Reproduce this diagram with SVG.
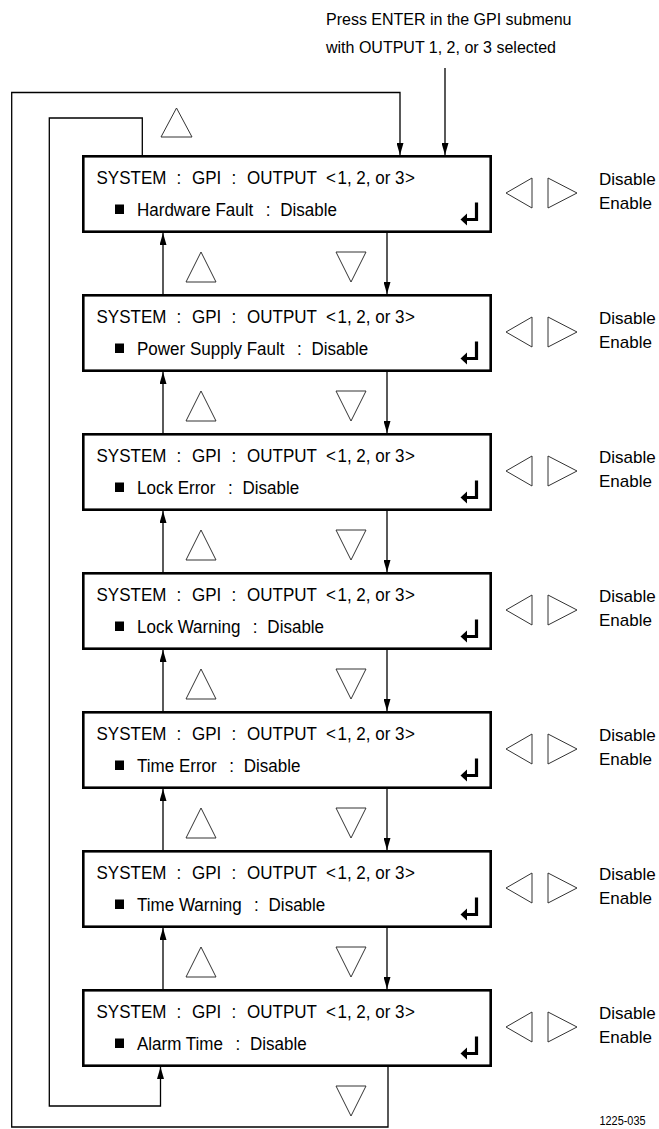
<svg xmlns="http://www.w3.org/2000/svg" width="659" height="1129" viewBox="0 0 659 1129">
<defs>
<style>
.t{font-family:"Liberation Sans",Arial,sans-serif;font-size:17px;fill:#000}
.tb{font-family:"Liberation Sans",Arial,sans-serif;font-size:18.5px;fill:#000}
.h{font-family:"Liberation Sans",Arial,sans-serif;font-size:16px;fill:#000}
.box{fill:#fff;stroke:#000;stroke-width:2.6}
.c{fill:none;stroke:#000;stroke-width:1.3}
.tri{fill:none;stroke:#333;stroke-width:1}
.ent{fill:none;stroke:#000;stroke-width:3.2}
</style>
<marker id="ah" viewBox="0 0 12 7" refX="12" refY="3.5" markerWidth="12" markerHeight="7" markerUnits="userSpaceOnUse" orient="auto">
<path d="M0,0 L12,3.5 L0,7 z" fill="#000"/>
</marker>
<g id="line1">
<text class="tb" y="29" transform="scale(0.92,1)"><tspan x="104.9">SYSTEM</tspan><tspan x="191.9">:</tspan><tspan x="208.7">GPI</tspan><tspan x="251.6">:</tspan><tspan x="268.5">OUTPUT</tspan><tspan x="354.3">&lt;</tspan><tspan x="366.8">1, 2, or 3</tspan><tspan x="440.2">&gt;</tspan></text>
<rect x="115" y="49.5" width="9" height="9.5" fill="#000"/>
<path class="ent" d="M476.5,47.5 V64.5 H466"/>
<polygon points="460.5,64.5 467,58.5 467,70.5" fill="#000"/>
<polygon class="tri" points="506,38 532,23 532,53"/>
<polygon class="tri" points="548,23 577,38 548,53"/>
<text class="t" x="599" y="30">Disable</text>
<text class="t" x="599" y="54">Enable</text>
</g>
</defs>

<text class="h" x="326" y="25">Press ENTER in the GPI submenu</text>
<text class="h" x="326" y="52.5">with OUTPUT 1, 2, or 3 selected</text>

<g id="connectors">
<path class="c" d="M388,1067 V1127 H11.7 V92.5 H400 V155" marker-end="url(#ah)"/>
<path class="c" d="M142.3,155 V118 H49.3 V1106 H160.5 V1067" marker-end="url(#ah)"/>
<path class="c" d="M445,68 V155" marker-end="url(#ah)"/>
<path class="c" d="M163,294 V233" marker-end="url(#ah)"/>
<path class="c" d="M387,233 V294" marker-end="url(#ah)"/>
<path class="c" d="M163,433 V372" marker-end="url(#ah)"/>
<path class="c" d="M387,372 V433" marker-end="url(#ah)"/>
<path class="c" d="M163,572 V511" marker-end="url(#ah)"/>
<path class="c" d="M387,511 V572" marker-end="url(#ah)"/>
<path class="c" d="M163,711 V650" marker-end="url(#ah)"/>
<path class="c" d="M387,650 V711" marker-end="url(#ah)"/>
<path class="c" d="M163,850 V789" marker-end="url(#ah)"/>
<path class="c" d="M387,789 V850" marker-end="url(#ah)"/>
<path class="c" d="M163,989 V928" marker-end="url(#ah)"/>
<path class="c" d="M387,928 V989" marker-end="url(#ah)"/>
</g>

<g id="nav-triangles">
<polygon class="tri" points="176.5,108 161,137 192,137"/>
<polygon class="tri" points="201,252 186,282 216,282"/>
<polygon class="tri" points="336,252 366,252 351,282"/>
<polygon class="tri" points="201,391 186,421 216,421"/>
<polygon class="tri" points="336,391 366,391 351,421"/>
<polygon class="tri" points="201,530 186,560 216,560"/>
<polygon class="tri" points="336,530 366,530 351,560"/>
<polygon class="tri" points="201,669 186,699 216,699"/>
<polygon class="tri" points="336,669 366,669 351,699"/>
<polygon class="tri" points="201,808 186,838 216,838"/>
<polygon class="tri" points="336,808 366,808 351,838"/>
<polygon class="tri" points="201,947 186,977 216,977"/>
<polygon class="tri" points="336,947 366,947 351,977"/>
<polygon class="tri" points="336,1086 366,1086 351,1116"/>
</g>

<g id="node-hardware-fault" transform="translate(0,155)">
<rect class="box" x="83.3" y="1.3" width="407.4" height="75.4"/>
<use href="#line1"/>
<text class="tb" x="148.9" y="61.5" transform="scale(0.92,1)">Hardware Fault<tspan dx="13.6">:</tspan><tspan dx="10.6">Disable</tspan></text>
</g>
<g id="node-power-supply-fault" transform="translate(0,294)">
<rect class="box" x="83.3" y="1.3" width="407.4" height="75.4"/>
<use href="#line1"/>
<text class="tb" x="148.9" y="61.5" transform="scale(0.92,1)">Power Supply Fault<tspan dx="13.6">:</tspan><tspan dx="10.6">Disable</tspan></text>
</g>
<g id="node-lock-error" transform="translate(0,433)">
<rect class="box" x="83.3" y="1.3" width="407.4" height="75.4"/>
<use href="#line1"/>
<text class="tb" x="148.9" y="61.5" transform="scale(0.92,1)">Lock Error<tspan dx="13.6">:</tspan><tspan dx="10.6">Disable</tspan></text>
</g>
<g id="node-lock-warning" transform="translate(0,572)">
<rect class="box" x="83.3" y="1.3" width="407.4" height="75.4"/>
<use href="#line1"/>
<text class="tb" x="148.9" y="61.5" transform="scale(0.92,1)">Lock Warning<tspan dx="13.6">:</tspan><tspan dx="10.6">Disable</tspan></text>
</g>
<g id="node-time-error" transform="translate(0,711)">
<rect class="box" x="83.3" y="1.3" width="407.4" height="75.4"/>
<use href="#line1"/>
<text class="tb" x="148.9" y="61.5" transform="scale(0.92,1)">Time Error<tspan dx="13.6">:</tspan><tspan dx="10.6">Disable</tspan></text>
</g>
<g id="node-time-warning" transform="translate(0,850)">
<rect class="box" x="83.3" y="1.3" width="407.4" height="75.4"/>
<use href="#line1"/>
<text class="tb" x="148.9" y="61.5" transform="scale(0.92,1)">Time Warning<tspan dx="13.6">:</tspan><tspan dx="10.6">Disable</tspan></text>
</g>
<g id="node-alarm-time" transform="translate(0,989)">
<rect class="box" x="83.3" y="1.3" width="407.4" height="75.4"/>
<use href="#line1"/>
<text class="tb" x="148.9" y="61.5" transform="scale(0.92,1)">Alarm Time<tspan dx="13.6">:</tspan><tspan dx="10.6">Disable</tspan></text>
</g>

<text x="599.5" y="1125" font-family="Liberation Sans, Arial, sans-serif" font-size="12" textLength="46" lengthAdjust="spacingAndGlyphs">1225-035</text>
</svg>
